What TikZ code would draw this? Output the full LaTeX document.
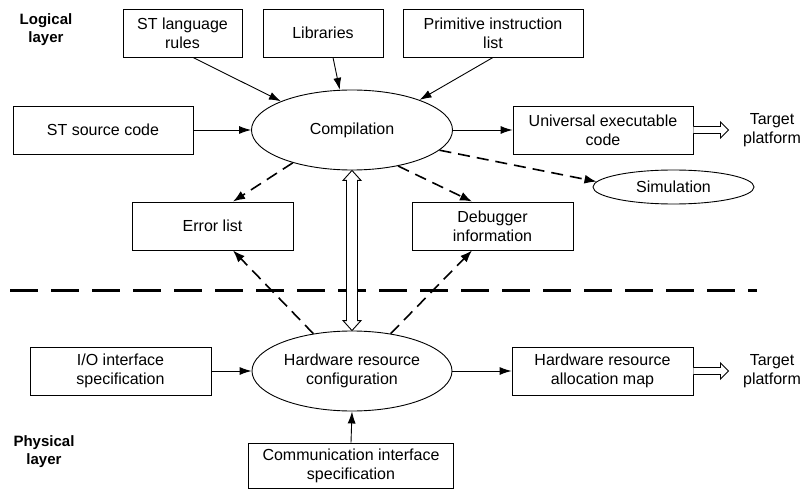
\documentclass[tikz,border=0pt]{standalone}
\usepackage{fontspec}
\setmainfont{Liberation Sans}
\usetikzlibrary{shapes.geometric,arrows.meta,calc}
\begin{document}
\begin{tikzpicture}[x=1pt,y=-1pt,
  every node/.style={font=\fontsize{16}{19}\selectfont, align=center, inner sep=0pt},
  box/.style={draw, line width=0.9pt, minimum height=48pt},
  ell/.style={draw, ellipse, line width=0.9pt},
  arr/.style={line width=0.9pt, -{Latex[length=12pt,width=8pt]}},
  darr/.style={line width=1.6pt, dash pattern=on 12pt off 7pt, -{Latex[length=12pt,width=9pt]}},
  lbl/.style={font=\fontsize{15}{18}\selectfont\bfseries},
  dbl/.style={draw, line width=0.9pt, fill=white, line join=miter}
]
\useasboundingbox (0,0) rectangle (803,489);

\node[lbl] (logical) at (46,30) {Logical\\layer};
\node[lbl] (physical) at (44,452) {Physical\\layer};

\node[box, minimum width=119pt] (rules) at (182.5,33) {ST language\\rules};
\node[box, minimum width=120pt] (libs) at (323,33) {Libraries};
\node[box, minimum width=180pt] (prim) at (493,33) {Primitive instruction\\list};
\node[box, minimum width=180pt] (src) at (103,130) {ST source code};
\node[ell, minimum width=201pt, minimum height=80pt] (comp) at (352,130) {Compilation};
\node[box, minimum width=180pt] (univ) at (603,130) {Universal executable\\code};
\node (tgt1) at (772,130) {Target\\platform};
\node[ell, minimum width=161pt, minimum height=34pt] (sim) at (673.5,187) {Simulation};
\node[box, minimum width=161pt] (err) at (212.5,226) {Error list};
\node[box, minimum width=161pt] (dbg) at (492.5,226) {Debugger\\information};
\coordinate (sepL) at (10,290);
\coordinate (sepR) at (757,290);
\node[box, minimum width=181pt] (io) at (120.5,371) {I/O interface\\specification};
\node[ell, minimum width=200pt, minimum height=80pt] (hw) at (352,371) {Hardware resource\\configuration};
\node[box, minimum width=181pt] (alloc) at (602.5,371) {Hardware resource\\allocation map};
\node (tgt2) at (772,371) {Target\\platform};
\node[box, minimum width=205pt, minimum height=45pt] (comm) at (351,465.5) {Communication interface\\specification};

% separator
\draw[line width=3pt, dash pattern=on 28pt off 13pt] (sepL) -- (sepR);

% solid arrows
\draw[arr] ([xshift=10.5pt]rules.south) -- (comp.158);
\draw[arr] ([xshift=10pt]libs.south) -- (comp.107);
\draw[arr] (prim.south) -- (comp.24);
\draw[arr] (src.east) -- (comp.west);
\draw[arr] (comp.east) -- (univ.west);
\draw[arr] (io.east) -- (hw.west);
\draw[arr] (hw.east) -- (alloc.west);
\draw[arr] (comm.north) -- (hw.south);

% dashed arrows
\draw[darr] (comp.-13) -- (sim.176);
\draw[darr] (comp.209) -- ([xshift=20.5pt]err.north);
\draw[darr] (comp.-38) -- ([xshift=-20.5pt]dbg.north);
\draw[darr] (hw.136) -- ([xshift=20.5pt]err.south);
\draw[darr] (hw.44) -- ([xshift=-20.5pt]dbg.south);

% open double arrows
\draw[dbl] (univ.east) ++(0,-3.5) -- ++(27,0) -- ++(0,-4.5) -- ++(8,8) -- ++(-8,8) -- ++(0,-4.5) -- ++(-27,0);
\draw[dbl] (alloc.east) ++(0,-3.5) -- ++(27,0) -- ++(0,-4.5) -- ++(8,8) -- ++(-8,8) -- ++(0,-4.5) -- ++(-27,0);
\draw[dbl] (comp.south) -- ++(-9,10) -- ++(3.5,0) -- ($(hw.north)+(-5.5,-10)$) -- ++(-3.5,0) -- (hw.north) -- ++(9,-10) -- ++(-3.5,0) -- ($(comp.south)+(5.5,10)$) -- ++(3.5,0) -- cycle;
\end{tikzpicture}
\end{document}
